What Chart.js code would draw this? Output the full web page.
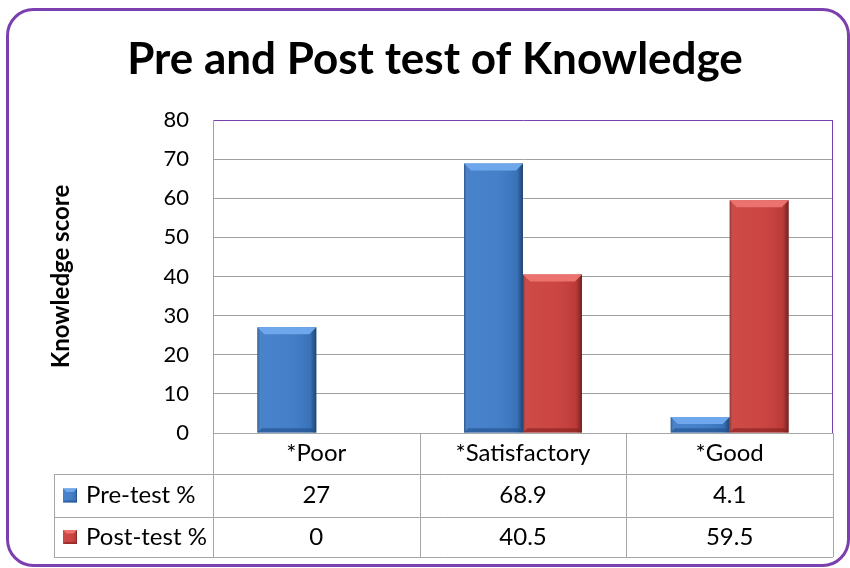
<!DOCTYPE html>
<html>
<head>
<meta charset="utf-8">
<script src="https://cdn.jsdelivr.net/npm/chart.js@4"></script>
<style>
html, body { margin: 0; padding: 0; background: #fff; }
canvas { display: block; }
</style>
</head>
<body>
<canvas id="chart" width="850" height="568"></canvas>
<script>
const categories = ["*Poor", "*Satisfactory", "*Good"];
const series_names = ["Pre-test %", "Post-test %"];
const pre_test = [27, 68.9, 4.1];
const post_test = [0, 40.5, 59.5];
const y_min = 0;
const y_max = 80;
const y_step = 10;
const chart_title = "Pre and Post test of Knowledge";
const y_title = "Knowledge score";

const FONT = "Lato, 'Open Sans', sans-serif";
const purple = "#7b3fae";
const grid_gray = "#a0a0a0";
const table_gray = "#a6a6a6";
const bar_styles = [
	{ main: "#3d7bc7", light: "#6ea7ec", dark: "#1f4f8a" },
	{ main: "#ca3f3c", light: "#ec726f", dark: "#80201e" }
];

function line(ctx, x1, y1, x2, y2) {
	ctx.beginPath();
	ctx.moveTo(x1, y1);
	ctx.lineTo(x2, y2);
	ctx.stroke();
}

function draw_bevel(ctx, left, top, right, bottom, style) {
	const w = right - left;
	const h = bottom - top;
	if (h < 1) return;
	const b = Math.min(7, h / 2, w / 4);
	ctx.save();
	// side shading
	const g = ctx.createLinearGradient(left, 0, right, 0);
	g.addColorStop(0, "rgba(0,0,0,0.30)");
	g.addColorStop(0.07, "rgba(255,255,255,0.06)");
	g.addColorStop(0.5, "rgba(255,255,255,0.04)");
	g.addColorStop(0.9, "rgba(0,0,0,0.08)");
	g.addColorStop(1, "rgba(0,0,0,0.45)");
	ctx.fillStyle = g;
	ctx.fillRect(left, top, w, h);
	// top bevel
	ctx.beginPath();
	ctx.moveTo(left, top);
	ctx.lineTo(right, top);
	ctx.lineTo(right - b, top + b);
	ctx.lineTo(left + b, top + b);
	ctx.closePath();
	ctx.fillStyle = style.light;
	ctx.fill();
	// bottom bevel
	ctx.beginPath();
	ctx.moveTo(left, bottom);
	ctx.lineTo(right, bottom);
	ctx.lineTo(right - b * 0.6, bottom - b * 0.6);
	ctx.lineTo(left + b * 0.6, bottom - b * 0.6);
	ctx.closePath();
	ctx.fillStyle = style.dark;
	ctx.globalAlpha = 0.6;
	ctx.fill();
	ctx.restore();
}

// outer frame + title
const frame_plugin = {
	id: "frame",
	beforeDraw(chart) {
		const { ctx, width, height } = chart;
		ctx.save();
		ctx.fillStyle = "#fff";
		ctx.fillRect(0, 0, width, height);
		ctx.strokeStyle = purple;
		ctx.lineWidth = 3;
		ctx.beginPath();
		ctx.roundRect(7.5, 9.5, 841, 556, 26);
		ctx.stroke();
		ctx.fillStyle = "#000";
		ctx.font = `bold 44px ${FONT}`;
		ctx.textAlign = "center";
		ctx.textBaseline = "middle";
		ctx.fillText(chart_title, 435, 60);
		ctx.restore();
	}
};

// bevel on the bars + purple plot border
const bevel_plugin = {
	id: "bevel",
	afterDatasetsDraw(chart) {
		const { ctx, chartArea: area } = chart;
		chart.data.datasets.forEach((ds, di) => {
			chart.getDatasetMeta(di).data.forEach(bar => {
				const p = bar.getProps(["x", "y", "width", "base"], true);
				draw_bevel(ctx, p.x - p.width / 2, Math.min(p.y, p.base), p.x + p.width / 2, Math.max(p.y, p.base), bar_styles[di]);
			});
		});
		ctx.save();
		ctx.strokeStyle = purple;
		ctx.lineWidth = 1;
		line(ctx, Math.round(area.right) - 0.5, area.top, Math.round(area.right) - 0.5, area.bottom);
		ctx.restore();
	}
};

// data table under the plot
const table_plugin = {
	id: "table",
	afterDraw(chart) {
		const { ctx, chartArea: area, scales } = chart;
		const x = scales.x;
		const n = categories.length;
		const col_w = area.width / n;
		const rows = [area.bottom, area.bottom + 41, area.bottom + 84, area.bottom + 124];
		const table_left = 54;
		const L = v => Math.round(v) + 0.5;
		ctx.save();
		ctx.strokeStyle = table_gray;
		ctx.lineWidth = 1;
		line(ctx, area.left, L(rows[0]), area.right, L(rows[0]));
		for (let r = 1; r < rows.length; r++) {
			line(ctx, table_left, L(rows[r]), area.right, L(rows[r]));
		}
		line(ctx, L(table_left), rows[1], L(table_left), rows[3]);
		for (let i = 0; i <= n; i++) {
			const xv = L(area.left + i * col_w);
			line(ctx, xv, rows[0], xv, rows[3]);
		}
		ctx.fillStyle = "#000";
		ctx.font = `24px ${FONT}`;
		ctx.textAlign = "center";
		ctx.textBaseline = "middle";
		categories.forEach((c, i) => ctx.fillText(c, x.getPixelForValue(i), (rows[0] + rows[1]) / 2));
		[pre_test, post_test].forEach((vals, r) => {
			const cy = (rows[r + 1] + rows[r + 2]) / 2;
			vals.forEach((v, i) => ctx.fillText(String(v), x.getPixelForValue(i), cy));
		});
		ctx.textAlign = "left";
		series_names.forEach((name, r) => {
			const cy = (rows[r + 1] + rows[r + 2]) / 2;
			const st = bar_styles[r];
			ctx.fillStyle = st.main;
			ctx.fillRect(63, cy - 7, 14, 14);
			draw_bevel(ctx, 63, cy - 7, 77, cy + 7, st);
			ctx.fillStyle = "#000";
			ctx.fillText(name, 86, cy);
		});
		ctx.restore();
	}
};

const data = {
	labels: categories,
	datasets: [
		{ label: series_names[0], data: pre_test, backgroundColor: bar_styles[0].main },
		{ label: series_names[1], data: post_test, backgroundColor: bar_styles[1].main }
	]
};

const options = {
	responsive: false,
	animation: false,
	devicePixelRatio: 1,
	layout: { padding: { left: 0, right: 17, top: 120, bottom: 135 } },
	datasets: { bar: { categoryPercentage: 0.571, barPercentage: 1, borderWidth: 0 } },
	scales: {
		x: {
			ticks: { display: false },
			grid: { display: false },
			border: { display: false },
			afterFit: scale => { scale.height = 0; }
		},
		y: {
			min: y_min,
			max: y_max,
			afterFit: scale => { scale.width = 213; },
			ticks: {
				stepSize: y_step,
				padding: 24,
				color: "#000",
				font: { family: FONT, size: 22 }
			},
			grid: {
				drawTicks: false,
				color: c => (c.tick && c.tick.value === y_max ? purple : grid_gray),
				lineWidth: 1
			},
			border: { display: true, color: grid_gray },
			title: {
				display: true,
				text: y_title,
				color: "#000",
				font: { family: FONT, size: 24, weight: "bold" },
				padding: { top: 47, bottom: 0 }
			}
		}
	},
	plugins: {
		legend: { display: false },
		title: { display: false },
		tooltip: { enabled: false }
	}
};

new Chart(document.getElementById("chart"), {
	type: "bar",
	data: data,
	options: options,
	plugins: [frame_plugin, bevel_plugin, table_plugin]
});
</script>
</body>
</html>
